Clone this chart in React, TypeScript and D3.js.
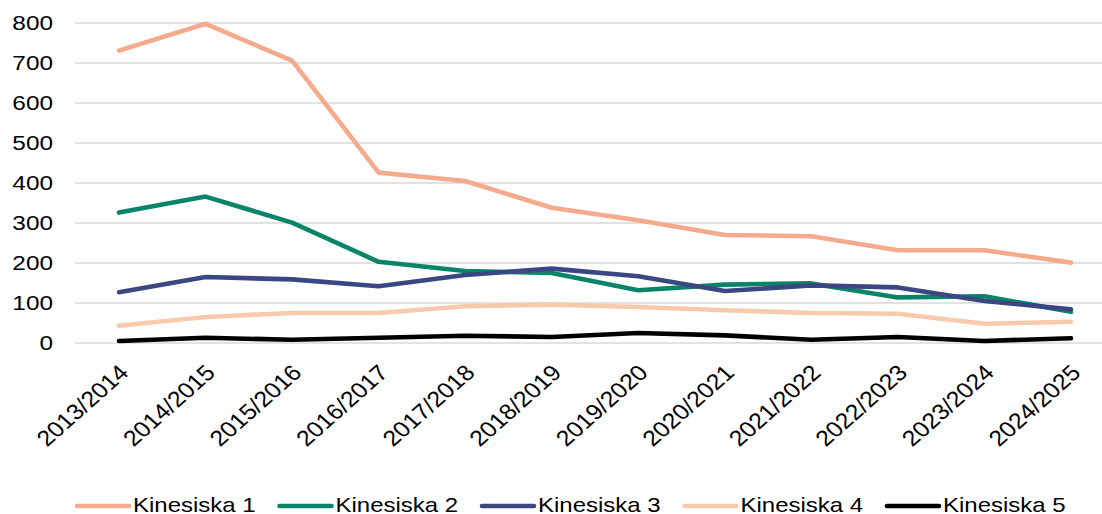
import React from "react";
import * as d3 from "d3";

const categories = [
  "2013/2014", "2014/2015", "2015/2016", "2016/2017", "2017/2018", "2018/2019",
  "2019/2020", "2020/2021", "2021/2022", "2022/2023", "2023/2024", "2024/2025",
];
const kinesiska1 = [731, 798, 706, 426, 405, 338, 307, 270, 267, 232, 232, 201];
const kinesiska2 = [326, 366, 301, 203, 180, 175, 132, 146, 149, 114, 117, 78];
const kinesiska3 = [127, 165, 159, 142, 170, 186, 167, 130, 144, 139, 105, 84];
const kinesiska4 = [43, 65, 75, 75, 92, 96, 90, 82, 75, 73, 48, 53];
const kinesiska5 = [5, 13, 8, 13, 18, 15, 25, 19, 8, 15, 5, 12];
const seriesNames = ["Kinesiska 1", "Kinesiska 2", "Kinesiska 3", "Kinesiska 4", "Kinesiska 5"];
const seriesColors = ["#F4AA8B", "#0A8468", "#3A4783", "#F7CAAC", "#000000"];
const yTicks = [0, 100, 200, 300, 400, 500, 600, 700, 800];

const W = 1102;
const H = 514;
const FONT = "'Liberation Sans', Arial, Helvetica, sans-serif";

export default function App() {
  const series = [kinesiska1, kinesiska2, kinesiska3, kinesiska4, kinesiska5];
  const x = d3.scalePoint<string>().domain(categories).range([119, 1071]);
  const y = d3.scaleLinear().domain([0, 800]).range([343, 23]);
  const line = d3
    .line<number>()
    .x((_, i) => x(categories[i]) as number)
    .y((d) => y(d));

  return (
    <svg
      width={W}
      height={H}
      style={{ position: "absolute", left: 0, top: 0, background: "#fff" }}
      fontFamily={FONT}
    >
      {yTicks.map((t) => (
        <g key={t}>
          <line x1={75} x2={W} y1={y(t)} y2={y(t)} stroke="#d9d9d9" strokeWidth={1.6} />
          <text
            transform={`translate(53, ${y(t) + 7}) scale(1.25,1)`}
            textAnchor="end"
            fontSize={19.5}
            fill="#000"
          >
            {t}
          </text>
        </g>
      ))}
      {series.map((s, i) => (
        <path
          key={i}
          d={line(s) as string}
          fill="none"
          stroke={seriesColors[i]}
          strokeWidth={4.6}
          strokeLinecap="round"
          strokeLinejoin="round"
        />
      ))}
      {categories.map((c) => (
        <text
          key={c}
          transform={`translate(${(x(c) as number) + 11}, 374) scale(1.13,1) rotate(-45)`}
          textAnchor="end"
          fontSize={22}
          fill="#000"
        >
          {c}
        </text>
      ))}
      {seriesNames.map((n, i) => {
        const lx = 77 + i * 202.5;
        return (
          <g key={n}>
            <line x1={lx} x2={lx + 52} y1={506} y2={506} stroke={seriesColors[i]} strokeWidth={4.6} strokeLinecap="round" />
            <text transform={`translate(${lx + 56}, 511.5) scale(1.2,1)`} fontSize={20} fill="#000">
              {n}
            </text>
          </g>
        );
      })}
    </svg>
  );
}
